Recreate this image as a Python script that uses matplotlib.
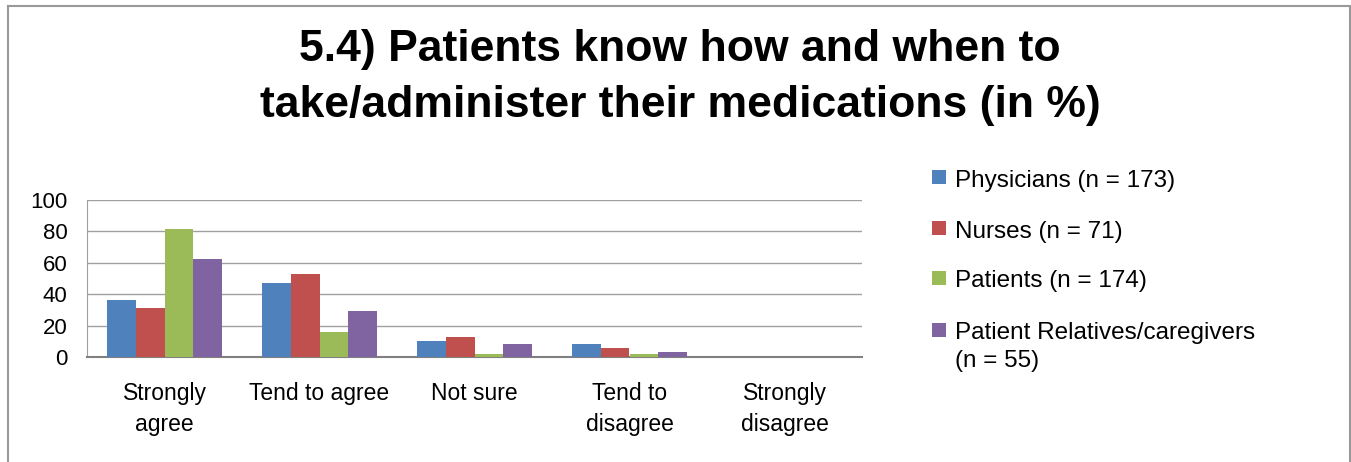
import matplotlib
matplotlib.use("Agg")
import matplotlib.pyplot as plt
from matplotlib.lines import Line2D
from matplotlib.patches import Rectangle
import numpy as np

categories = ["Strongly\nagree", "Tend to agree", "Not sure", "Tend to\ndisagree", "Strongly\ndisagree"]
series_names = ["Physicians (n = 173)", "Nurses (n = 71)", "Patients (n = 174)",
                "Patient Relatives/caregivers\n(n = 55)"]
physicians = [36, 47, 10, 8, 0]
nurses = [31, 53, 12.5, 5.7, 0]
patients = [81.5, 15.7, 2, 2, 0]
relatives = [62.5, 29.5, 8.2, 3.2, 0]
colors = ["#4F81BD", "#C0504D", "#9BBB59", "#8064A2"]
yticks = [0, 20, 40, 60, 80, 100]

plt.rcParams['font.family'] = ['Liberation Sans', 'DejaVu Sans']

W, H = 1351, 462
fig = plt.figure(figsize=(W / 100, H / 100), dpi=100)

def fx(px):
    return px / W

def fy(py):
    return 1 - py / H

# outer frame (top, left, right)
frame_kw = dict(transform=fig.transFigure, color="#999999", linewidth=1.5)
fig.lines.append(Line2D([fx(8), fx(1349.5)], [fy(6), fy(6)], **frame_kw))
fig.lines.append(Line2D([fx(8), fx(8)], [fy(6), 0], **frame_kw))
fig.lines.append(Line2D([fx(1349.5), fx(1349.5)], [fy(6), 0], **frame_kw))

ax = fig.add_axes([fx(87), fy(357), fx(862 - 87), (357 - 200) / H])

x = np.arange(len(categories))
w = 0.187
data = [physicians, nurses, patients, relatives]
for i, (vals, c, name) in enumerate(zip(data, colors, series_names)):
    ax.bar(x + (i - 1.5) * w, vals, w, color=c, label=name, zorder=3)

ax.set_xlim(-0.5, len(categories) - 0.5)
ax.set_ylim(0, 100)
ax.set_yticks(yticks)
ax.set_yticklabels([str(t) for t in yticks], fontsize=16)
ax.set_xticks(x)
ax.set_xticklabels(categories, fontsize=16.5, linespacing=1.45)
ax.tick_params(axis='x', length=0, pad=18)
ax.tick_params(axis='y', length=0, pad=14)
ax.yaxis.grid(True, color="#A0A0A0", linewidth=1, zorder=0)
for s in ["top", "right"]:
    ax.spines[s].set_visible(False)
ax.spines["left"].set_color("#A0A0A0")
ax.spines["bottom"].set_color("#808080")
ax.spines["bottom"].set_linewidth(1.5)

fig.text(fx(680), fy(50), "5.4) Patients know how and when to", ha="center", va="center",
         fontsize=32, fontweight="bold")
fig.text(fx(680), fy(106), "take/administer their medications (in %)", ha="center", va="center",
         fontsize=32, fontweight="bold")

# legend: coloured square aligned with the first line of each label
row_y = [177, 228, 278, 330]
line_gap = 28
sq = 14
for name, c, ry in zip(series_names, colors, row_y):
    fig.patches.append(Rectangle((fx(932), fy(ry + sq / 2)), sq / W, sq / H,
                                 transform=fig.transFigure, facecolor=c, edgecolor="none"))
    for k, line in enumerate(name.split("\n")):
        fig.text(fx(955), fy(ry + 1 + k * line_gap), line, ha="left",
                 va="center_baseline", fontsize=17.5)

fig.savefig("out.png", dpi=100)
